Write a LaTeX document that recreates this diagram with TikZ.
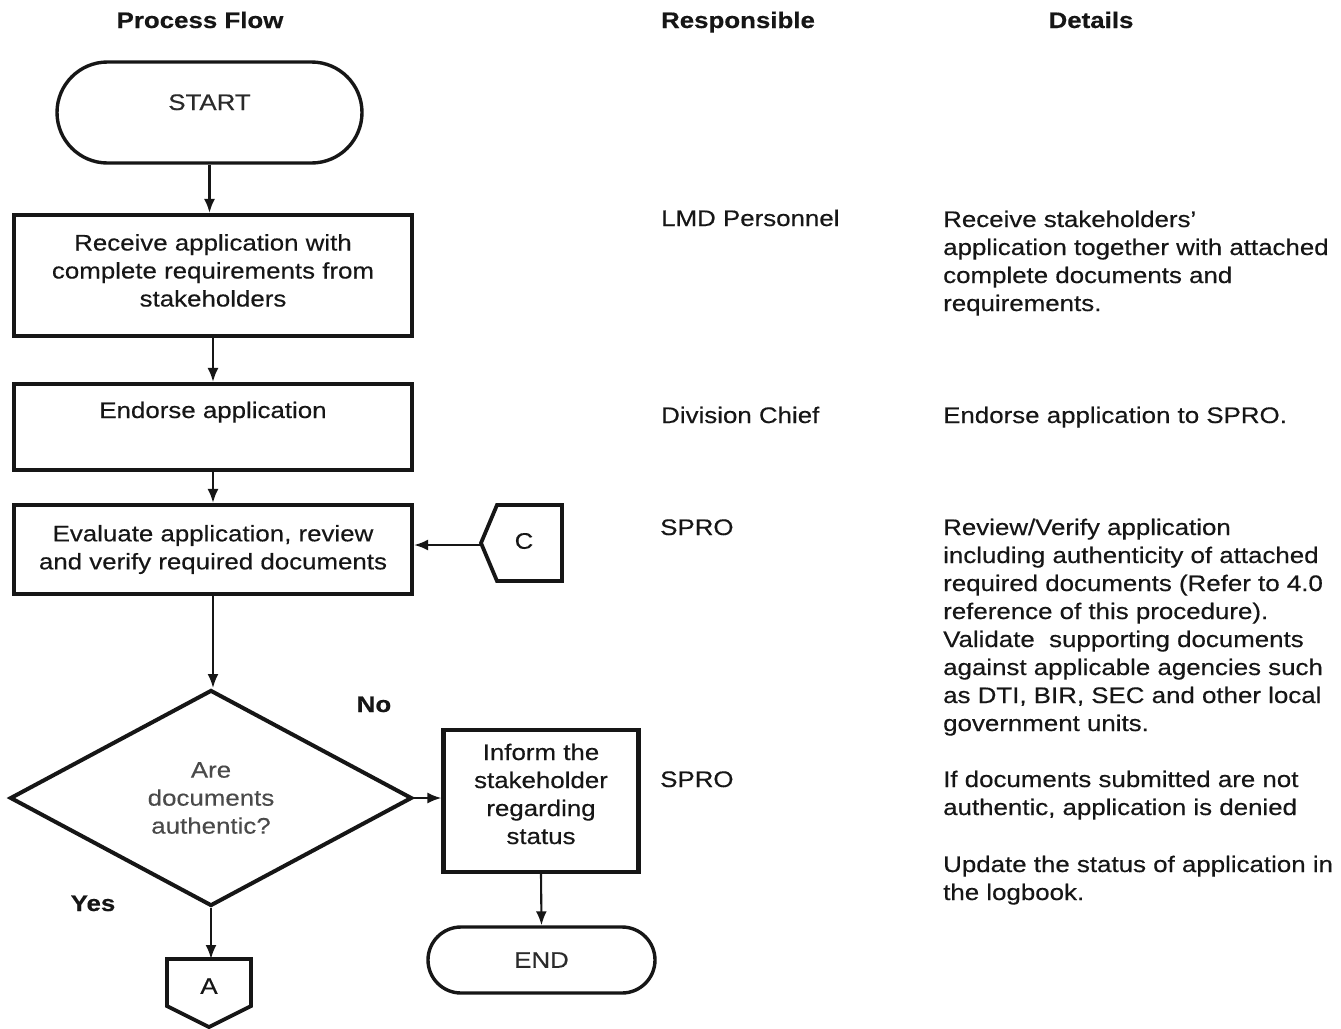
\documentclass[tikz,border=0pt]{standalone}
\usepackage{fontspec}
\setmainfont{Liberation Sans}[FakeStretch=1.15, FakeBold=0.4]
\usetikzlibrary{shapes.geometric,shapes.misc,arrows.meta}
\definecolor{ink}{HTML}{161616}
\definecolor{softink}{HTML}{4A4A4A}
\definecolor{termink}{HTML}{2A2A2A}

\begin{document}
\begin{tikzpicture}[x=1pt,y=-1pt,
  every node/.style={font=\fontsize{22.5}{28}\selectfont, text=ink},
  box/.style={draw=ink, line width=4.2pt, inner sep=0pt, align=center},
  term/.style={draw=ink, rounded rectangle, line width=3.4pt, inner sep=0pt,
               align=center, text=termink},
  flow/.style={draw=ink, line width=2.1pt, -{Latex[length=14pt,width=11pt]}},
  link/.style={draw=ink, line width=3.8pt, line join=miter},
  hdr/.style={font=\bfseries\fontsize{22.5}{28}\selectfont, anchor=base, inner sep=0pt},
  lbl/.style={font=\bfseries\fontsize{22.5}{28}\selectfont, anchor=base, inner sep=0pt},
  cell/.style={anchor=base west, inner sep=0pt},
  para/.style={anchor=north west, inner sep=0pt, align=left},
]
\useasboundingbox (0,0) rectangle (1341,1028);

% column headings
\node[hdr] (hflow) at (200,28) {Process Flow};
\node[hdr] (hresp) at (738,28) {Responsible};
\node[hdr] (hdet)  at (1091,28) {Details};

% flow chart
\node[term, minimum width=305pt, minimum height=101pt, text height=16pt, text depth=21pt]
  (start) at (209.5,112.5) {START};
\node[box, minimum width=398pt, minimum height=121pt, text height=72pt, text depth=10pt]
  (recv) at (213,275.5)
  {Receive application with\\complete requirements from\\stakeholders};
\node[box, minimum width=398pt, minimum height=86pt, text height=16pt, text depth=34pt]
  (endorse) at (213,427) {Endorse application};
\node[box, minimum width=398pt, minimum height=89pt] (evalbox) at (213,549.5)
  {Evaluate application, review\\and verify required documents};
\node[diamond, draw=ink, line width=4pt, inner sep=0pt, align=center,
      minimum width=402pt, minimum height=216pt, text=softink]
  (dec) at (211,798) {Are\\documents\\authentic?};
\node[box, minimum width=195pt, minimum height=142pt, text height=100pt, text depth=14pt]
  (inform) at (541,801)
  {Inform the\\stakeholder\\regarding\\status};
\node[term, minimum width=227pt, minimum height=66pt] (finish) at (541.5,960) {END};

% off-page connector C
\draw[link] (481,543) -- (497,505) -- (562,505) -- (562,581) -- (497,581) -- cycle;
\coordinate (cTip) at (481,545);
\node (conC) at (524,541) {C};

% off-page connector A
\draw[link] (167,959) -- (251,959) -- (251,1006) -- (209,1027) -- (167,1006) -- cycle;
\coordinate (aTop) at (209,959);
\node (conA) at (209,986) {A};

% decision labels
\node[lbl] (no)  at (374,712) {No};
\node[lbl] (yes) at (93,911) {Yes};

% connectors
\draw[flow] (start.south) -- (start.south |- recv.north);
\draw[flow] (recv.south) -- (endorse.north);
\draw[flow] (endorse.south) -- (evalbox.north);
\draw[flow] (evalbox.south) -- (evalbox.south |- dec.north);
\draw[flow] (cTip) -- (cTip -| evalbox.east);
\draw[flow] (dec.east) -- (dec.east -| inform.west);
\draw[flow] (inform.south) -- (finish.north);
\draw[flow] (dec.south) -- (dec.south |- aTop);

% responsible column
\node[cell] (r1) at (661,226) {LMD Personnel};
\node[cell] (r2) at (661,423) {Division Chief};
\node[cell] (r3) at (660,535) {SPRO};
\node[cell] (r4) at (660,787) {SPRO};

% details column
\node[para] (d1) at (943,210.5)
  {Receive stakeholders'\\application together with attached\\complete documents and\\requirements.};
\node[cell] (d2) at (943,423) {Endorse application to SPRO.};
\node[para] (d3) at (943,518.5)
  {Review/Verify application\\including authenticity of attached\\required documents (Refer to 4.0\\reference of this procedure).\\Validate\ \ supporting documents\\against applicable agencies such\\as DTI, BIR, SEC and other local\\government units.};
\node[para] (d4) at (943,770.5)
  {If documents submitted are not\\authentic, application is denied};
\node[para] (d5) at (943,855.5)
  {Update the status of application in\\the logbook.};
\end{tikzpicture}
\end{document}
